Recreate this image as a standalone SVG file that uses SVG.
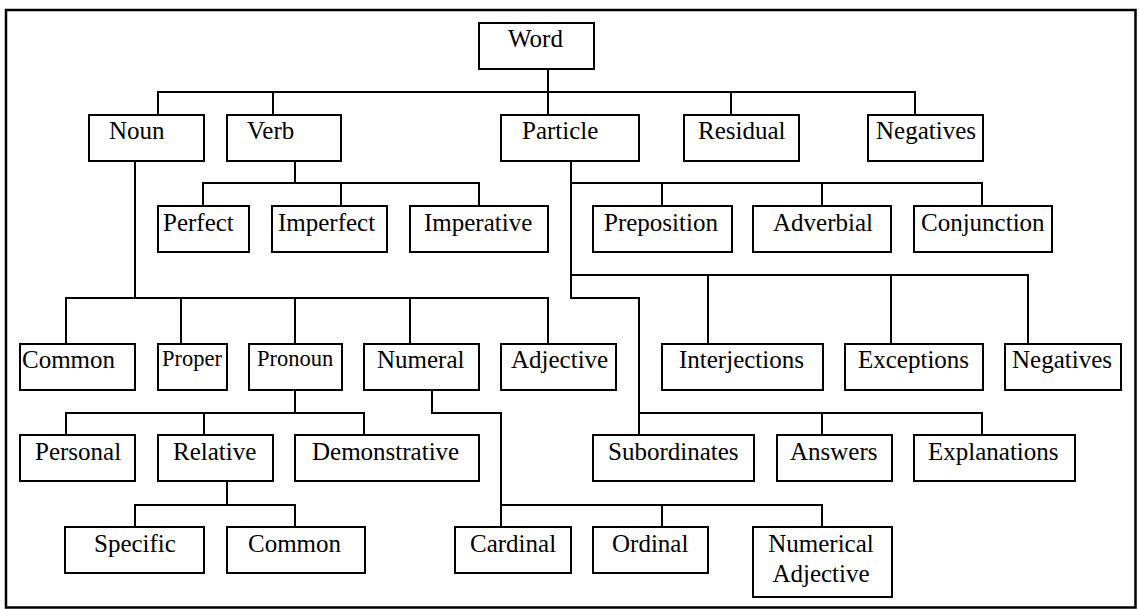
<svg xmlns="http://www.w3.org/2000/svg" width="1139" height="609" viewBox="0 0 1139 609">
<style>
.box{fill:#fff;stroke:#000;stroke-width:2}
.t{font-family:"Liberation Serif","Times New Roman",serif;font-size:25px;fill:#000}
.s{font-size:22.5px}
.c{fill:none;stroke:#000;stroke-width:2}
</style>
<rect x="0" y="0" width="1139" height="609" fill="#fff"/>
<rect x="6" y="10" width="1129.5" height="597.5" fill="none" stroke="#000" stroke-width="2.5"/>
<g id="connectors" class="c">
<path d="M548 69V115M158 115V92H915V115M273 92V115M731 92V115"/>
<path d="M295 161V183M203 206V183H479V206M341 183V206"/>
<path d="M571 161V298H639V435M571 183H982V206M662 183V206M822 183V206"/>
<path d="M571 275H1028V344M708 275V344M891 275V344"/>
<path d="M639 413H982V435M822 413V435"/>
<path d="M135 161V298M66 344V298H548V344M181 298V344M295 298V344M410 298V344"/>
<path d="M295 390V413M66 435V413H364V435M204 413V435"/>
<path d="M432 390V413H501V527M501 505H822V527M662 505V527"/>
<path d="M227 481V505M135 527V505H295V527"/>
</g>
<g id="word"><rect class="box" x="479" y="23" width="115" height="46"/><text class="t" x="508" y="47">Word</text></g>
<g id="noun"><rect class="box" x="89" y="115" width="115" height="46"/><text class="t" x="109" y="139">Noun</text></g>
<g id="verb"><rect class="box" x="227" y="115" width="114" height="46"/><text class="t" x="247" y="139">Verb</text></g>
<g id="particle"><rect class="box" x="501" y="115" width="138" height="46"/><text class="t" x="522" y="139">Particle</text></g>
<g id="residual"><rect class="box" x="684" y="115" width="115" height="46"/><text class="t" x="698" y="139">Residual</text></g>
<g id="negatives1"><rect class="box" x="868" y="115" width="115" height="46"/><text class="t" x="876" y="139">Negatives</text></g>
<g id="perfect"><rect class="box" x="158" y="206" width="91" height="46"/><text class="t" x="163" y="231">Perfect</text></g>
<g id="imperfect"><rect class="box" x="272" y="206" width="115" height="46"/><text class="t" x="278" y="231">Imperfect</text></g>
<g id="imperative"><rect class="box" x="410" y="206" width="138" height="46"/><text class="t" x="424" y="231">Imperative</text></g>
<g id="preposition"><rect class="box" x="593" y="206" width="139" height="46"/><text class="t" x="604" y="231">Preposition</text></g>
<g id="adverbial"><rect class="box" x="753" y="206" width="138" height="46"/><text class="t" x="773" y="231">Adverbial</text></g>
<g id="conjunction"><rect class="box" x="914" y="206" width="138" height="46"/><text class="t" x="921" y="231">Conjunction</text></g>
<g id="common1"><rect class="box" x="20" y="344" width="115" height="46"/><text class="t" x="22" y="368">Common</text></g>
<g id="proper"><rect class="box" x="158" y="344" width="69" height="46"/><text class="t s" x="162" y="366">Proper</text></g>
<g id="pronoun"><rect class="box" x="249" y="344" width="93" height="46"/><text class="t s" x="257" y="366">Pronoun</text></g>
<g id="numeral"><rect class="box" x="364" y="344" width="115" height="46"/><text class="t" x="377" y="368">Numeral</text></g>
<g id="adjective"><rect class="box" x="501" y="344" width="115" height="46"/><text class="t" x="511" y="368">Adjective</text></g>
<g id="interjections"><rect class="box" x="662" y="344" width="161" height="46"/><text class="t" x="679" y="368">Interjections</text></g>
<g id="exceptions"><rect class="box" x="845" y="344" width="138" height="46"/><text class="t" x="858" y="368">Exceptions</text></g>
<g id="negatives2"><rect class="box" x="1005" y="344" width="116" height="46"/><text class="t" x="1012" y="368">Negatives</text></g>
<g id="personal"><rect class="box" x="20" y="435" width="115" height="46"/><text class="t" x="35" y="460">Personal</text></g>
<g id="relative"><rect class="box" x="158" y="435" width="115" height="46"/><text class="t" x="173" y="460">Relative</text></g>
<g id="demonstrative"><rect class="box" x="295" y="435" width="184" height="46"/><text class="t" x="312" y="460">Demonstrative</text></g>
<g id="subordinates"><rect class="box" x="593" y="435" width="161" height="46"/><text class="t" x="608" y="460">Subordinates</text></g>
<g id="answers"><rect class="box" x="777" y="435" width="115" height="46"/><text class="t" x="790" y="460">Answers</text></g>
<g id="explanations"><rect class="box" x="914" y="435" width="161" height="46"/><text class="t" x="928" y="460">Explanations</text></g>
<g id="specific"><rect class="box" x="65" y="527" width="139" height="46"/><text class="t" x="94" y="552">Specific</text></g>
<g id="common2"><rect class="box" x="227" y="527" width="138" height="46"/><text class="t" x="248" y="552">Common</text></g>
<g id="cardinal"><rect class="box" x="455" y="527" width="116" height="46"/><text class="t" x="470" y="552">Cardinal</text></g>
<g id="ordinal"><rect class="box" x="593" y="527" width="115" height="46"/><text class="t" x="612" y="552">Ordinal</text></g>
<g id="numerical-adjective"><rect class="box" x="753" y="527" width="139" height="70"/><text class="t" text-anchor="middle" x="821" y="552">Numerical</text><text class="t" text-anchor="middle" x="821" y="582">Adjective</text></g>
</svg>
